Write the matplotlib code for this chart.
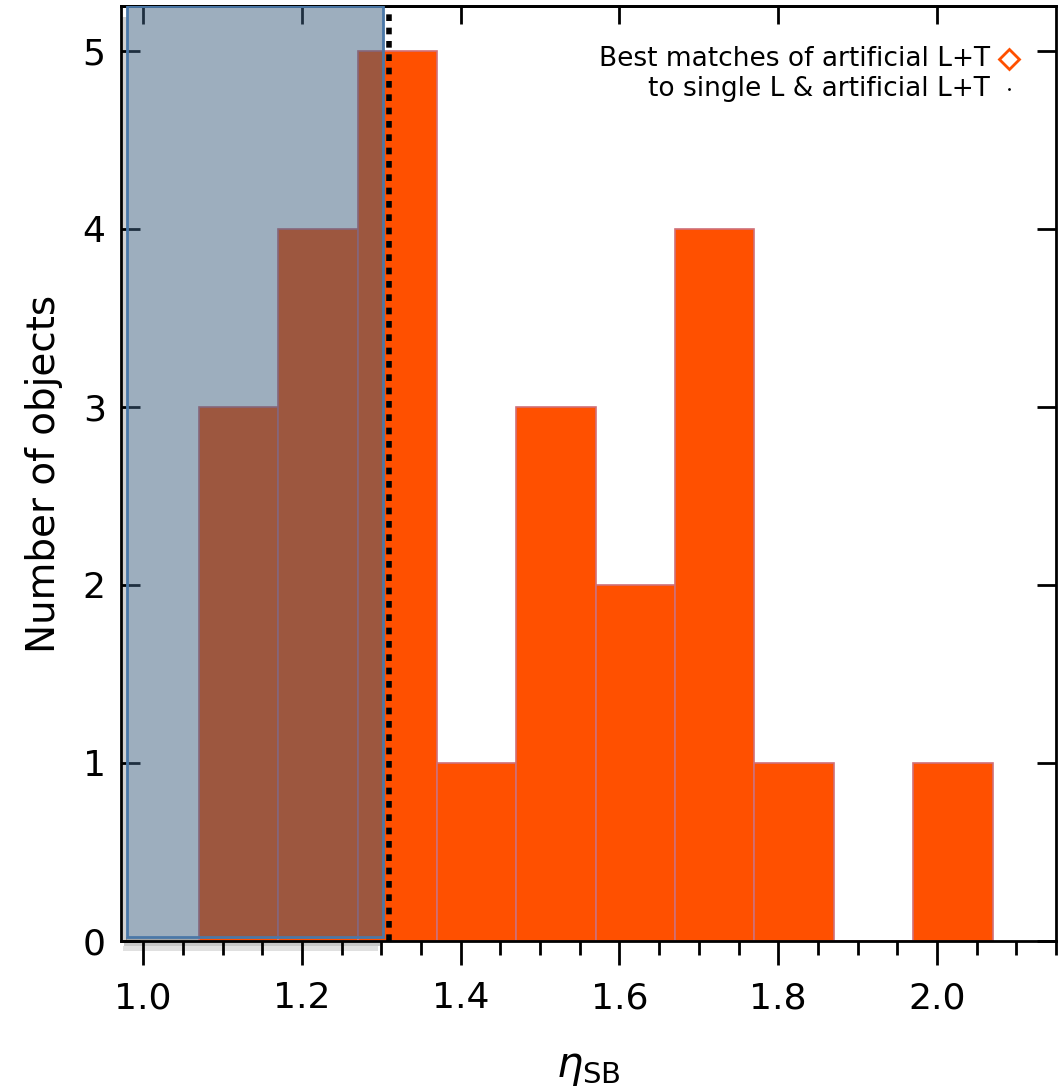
import matplotlib
matplotlib.use('Agg')
import matplotlib.pyplot as plt
from matplotlib.patches import Rectangle
from matplotlib.ticker import MultipleLocator
import numpy as np

# histogram of eta_SB values
bin_edges = [1.07, 1.17, 1.27, 1.37, 1.47, 1.57, 1.67, 1.77, 1.87, 1.97, 2.07]
counts = [3, 4, 5, 1, 3, 2, 4, 1, 0, 1]

# shaded region and cut
box_x = (0.98, 1.302)
box_y = (0.02, 5.25)
cut = 1.31

legend_lines = ['Best matches of artificial L+T', 'to single L & artificial L+T']

plt.rcParams['font.family'] = 'DejaVu Sans'

fig = plt.figure(figsize=(10.64, 10.88), dpi=100)
ax = fig.add_axes([0.1137, 0.1351, 0.8788, 0.8594])

widths = np.diff(bin_edges)
ax.bar(bin_edges[:-1], counts, width=widths, align='edge',
       color='#ff5000', edgecolor='#d07078', linewidth=1.2, zorder=2)

# soft drop shadow under the box (left and bottom strips)
for i, a in enumerate([0.35, 0.22, 0.12]):
    d = i + 1
    ax.add_patch(Rectangle((box_x[0] - 0.002 * d, box_y[0] - 0.025 * d),
                           box_x[1] - box_x[0], 0.025,
                           facecolor='black', alpha=a, edgecolor='none',
                           zorder=1.5, clip_on=False))
ax.add_patch(Rectangle((box_x[0] - 0.006, box_y[0] - 0.06), 0.006, box_y[1] - box_y[0],
                       facecolor='black', alpha=0.18, edgecolor='none', zorder=1.5))

rect = Rectangle((box_x[0], box_y[0]), box_x[1] - box_x[0], box_y[1] - box_y[0],
                 facecolor=(61/255, 94/255, 127/255, 0.5),
                 edgecolor='#4a78a8', linewidth=2, zorder=3)
ax.add_patch(rect)

ax.axvline(cut, color='black', linestyle=(0, (1.2, 1.2)), linewidth=4, zorder=4)

ax.set_xlim(0.972, 2.15)
ax.set_ylim(0, 5.25)

ax.set_xticks([1.0, 1.2, 1.4, 1.6, 1.8, 2.0])
ax.set_xticklabels(['1.0', '1.2', '1.4', '1.6', '1.8', '2.0'])
ax.xaxis.set_minor_locator(MultipleLocator(0.05))
ax.yaxis.set_major_locator(MultipleLocator(1))

ax.tick_params(axis='x', which='major', direction='out', length=17, width=2,
               labelsize=26, pad=12, top=False)
ax.tick_params(axis='x', which='minor', direction='out', length=10, width=2, top=False)
ax.tick_params(axis='y', which='major', direction='in', length=14, width=2,
               labelsize=26, pad=11, right=True)

# top ticks point inward, majors only
secx = ax.secondary_xaxis('top')
secx.set_xticks([1.0, 1.2, 1.4, 1.6, 1.8, 2.0])
secx.tick_params(axis='x', which='major', direction='in', length=13, width=2, labeltop=False)
secx.tick_params(axis='x', which='minor', length=0)
secx.spines['top'].set_linewidth(2)

for s in ax.spines.values():
    s.set_linewidth(2)

ax.set_ylabel('Number of objects', fontsize=28, labelpad=14)
ax.set_xlabel(r'$\eta_{\rm SB}$', fontsize=30, labelpad=22)

# legend text
ax.text(0.929, 0.943, legend_lines[0], transform=ax.transAxes, ha='right', va='center',
        fontsize=19)
ax.text(0.929, 0.911, legend_lines[1], transform=ax.transAxes, ha='right', va='center',
        fontsize=19)
ax.plot([0.950], [0.943], marker='D', markersize=10, markerfacecolor='none',
        markeredgecolor='#ff5000', markeredgewidth=2, transform=ax.transAxes)
ax.plot([0.950], [0.911], marker='.', markersize=2, color='black', transform=ax.transAxes)

fig.savefig('out.png', dpi=100)
